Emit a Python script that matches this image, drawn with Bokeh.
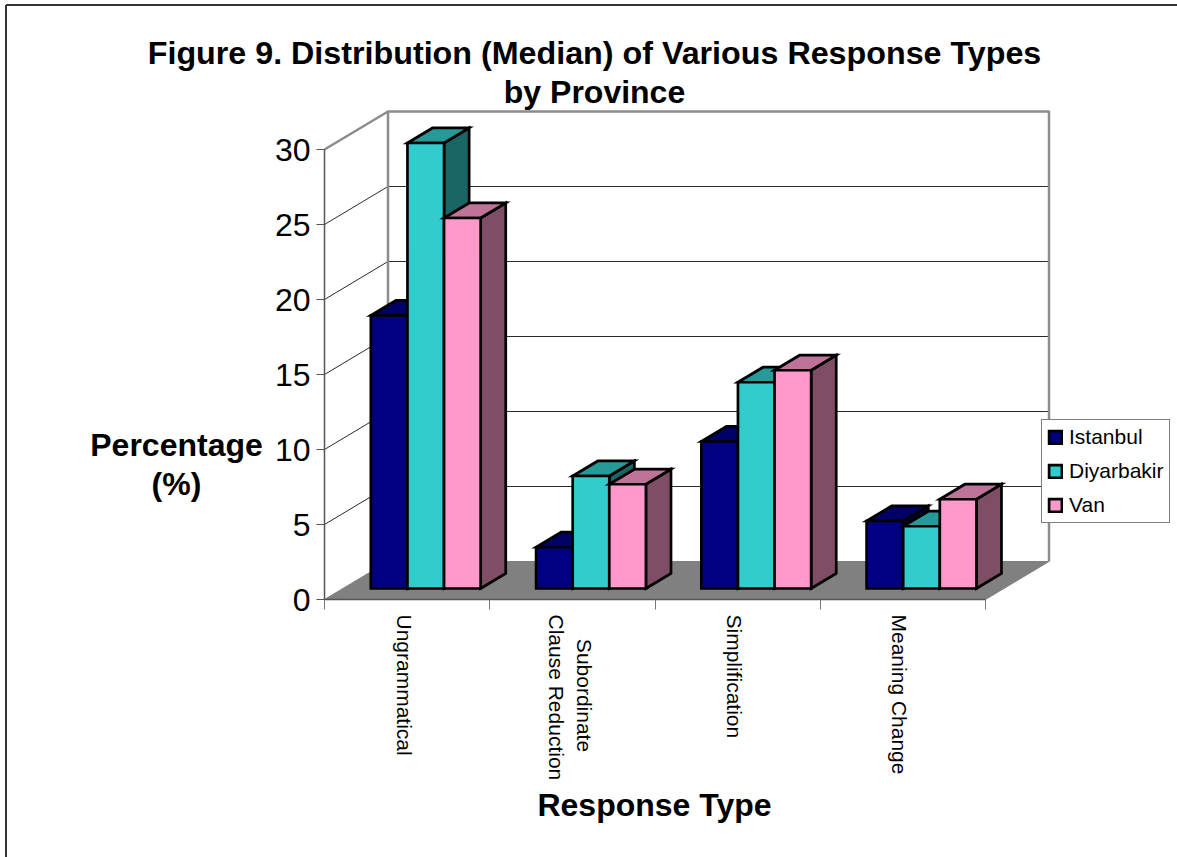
from bokeh.plotting import figure
from bokeh.embed import file_html
from bokeh.resources import INLINE
from bokeh.models import FixedTicker, Label, Legend, LegendItem
from bokeh.core.properties import value
import math

categories = ["Ungrammatical", "Subordinate\nClause Reduction", "Simplification", "Meaning Change"]
istanbul = [18.2, 2.75, 9.8, 4.5]
diyarbakir = [29.7, 7.5, 13.75, 4.15]
van = [24.7, 6.95, 14.55, 5.95]
series_names = ["Istanbul", "Diyarbakir", "Van"]
y_ticks = [0, 5, 10, 15, 20, 25, 30]
title_lines = ["Figure 9. Distribution (Median) of Various Response Types", "by Province"]
y_title_lines = ["Percentage", "(%)"]
x_title = "Response Type"

W, H = 1177, 857
X0, XU = 324.0, 165.25   # pixel of category 0, pixels per category
Y0, YU = 599.0, 15.0     # pixel of value 0, pixels per value unit
FONT = "Liberation Sans"

def sx(px): return (px - X0) / XU
def sy(py): return (Y0 - py) / YU

DX, DY = 63.5 / XU, 38.0 / YU       # full floor depth, in data units
BAR_F, BAR_B = 0.29, 0.685          # bar front / back as a fraction of the depth
GAP, BW = 0.169, 0.2215             # gap and bar width, in categories

p = figure(width=W, height=H, output_backend="svg", toolbar_location=None,
           x_range=(sx(0), sx(W)), y_range=(sy(H), sy(0)),
           min_border=0, outline_line_color=None, background_fill_color="white")
p.grid.visible = False

# page border
p.line([sx(5.5), sx(5.5)], [sy(H), sy(4.5)], line_color="#333333", line_width=2)
p.line([sx(5.5), sx(W)], [sy(4.5), sy(4.5)], line_color="#333333", line_width=2)

# floor
n = len(categories)
p.patch([0, n, n + DX, DX], [0, 0, DY, DY], fill_color="#808080", line_color="#808080", line_width=1)

# walls: gridlines
for t in y_ticks[1:-1]:
    p.line([0, DX, n + DX], [t, t + DY, t + DY], line_color="#2a2a2a", line_width=1)
top = y_ticks[-1]
p.line([0, DX, n + DX, n + DX], [top, top + DY, top + DY, DY], line_color="#8c8c8c", line_width=2.5)
p.line([DX, DX], [DY, top + DY], line_color="#8c8c8c", line_width=2.5)

# axes
p.yaxis.fixed_location = 0
p.yaxis.ticker = FixedTicker(ticks=y_ticks)
p.yaxis.bounds = (0, 30)
p.yaxis.major_tick_out = 8
p.yaxis.major_tick_in = 0
p.yaxis.minor_tick_line_color = None
p.yaxis.axis_line_color = "#555555"
p.yaxis.axis_line_width = 1.5
p.yaxis.major_tick_line_color = "#555555"
p.yaxis.major_label_text_font = FONT
p.yaxis.major_label_text_font_size = "32px"
p.yaxis.major_label_text_color = "black"
p.yaxis.major_label_standoff = 6

p.xaxis.fixed_location = 0
p.xaxis.ticker = FixedTicker(ticks=list(range(n + 1)))
p.xaxis.bounds = (0, n)
p.xaxis.major_tick_out = 10
p.xaxis.major_tick_in = 0
p.xaxis.minor_tick_line_color = None
p.xaxis.axis_line_color = "#555555"
p.xaxis.axis_line_width = 1.5
p.xaxis.major_tick_line_color = "#777777"
p.xaxis.major_label_overrides = {i: "" for i in range(n + 1)}

# bars
front_colors = ["#000080", "#33CCCC", "#FF99CC"]
top_colors = ["#000066", "#269999", "#BF7399"]
side_colors = ["#000040", "#1A6666", "#804D66"]
series = [istanbul, diyarbakir, van]
first_fronts = {}
fx, fy = BAR_F * DX, BAR_F * DY
bx, by = BAR_B * DX, BAR_B * DY
for c in range(n):
    for k, vals in enumerate(series):
        v = vals[c]
        l = c + GAP + k * BW
        r = l + BW
        style = dict(line_color="black", line_width=2.7, line_join="miter")
        p.patches(
            [[r + fx, r + bx, r + bx, r + fx], [l + fx, r + fx, r + bx, l + bx]],
            [[fy, by, by + v, fy + v], [fy + v, fy + v, by + v, by + v]],
            fill_color=[side_colors[k], top_colors[k]], **style)
        f = p.patch([l + fx, r + fx, r + fx, l + fx], [fy, fy, fy + v, fy + v],
                    fill_color=front_colors[k], **style)
        first_fronts.setdefault(k, f)

# category labels, rotated
for c, cat in enumerate(categories):
    lines = cat.split("\n")
    longest = max(len(s) for s in lines)
    for i, line in enumerate(lines):
        shift = (2 * i - (len(lines) - 1)) * -14 + (-1.5 if len(lines) > 1 else -3)
        first = len(line) == longest
        p.text([c + 0.5], [sy(614 if first else 695)], text=[line], angle=-math.pi / 2,
               x_offset=shift, text_font=value(FONT), text_font_size="21px", text_color="black",
               text_align="left" if first else "center", text_baseline="middle")

# titles
def label(text, cx, cy, size, bold=True):
    p.add_layout(Label(x=cx, y=H - cy, x_units="screen", y_units="screen", text=text,
                       text_font=FONT, text_font_size=size, text_color="black",
                       text_font_style="bold" if bold else "normal",
                       text_align="center", text_baseline="middle"))

label(title_lines[0], 594, 52, "32.25px")
label(title_lines[1], 594, 91, "32px")
label(y_title_lines[0], 176, 444, "32px")
label(y_title_lines[1], 176, 483, "32px")
label(x_title, 654, 804, "32px")

# legend
items = [LegendItem(label=value(series_names[k]), renderers=[first_fronts[k]]) for k in range(3)]
legend = Legend(items=items, location=(1041, H - 523), orientation="vertical",
                border_line_color="black", border_line_width=1, background_fill_color="white",
                background_fill_alpha=1, label_text_font=FONT, label_text_font_size="21px",
                label_text_color="black", glyph_width=16, glyph_height=16,
                label_standoff=6, padding=5, margin=0, spacing=10, label_height=22)
p.add_layout(legend)

open("out.html", "w").write(file_html(p, INLINE))
